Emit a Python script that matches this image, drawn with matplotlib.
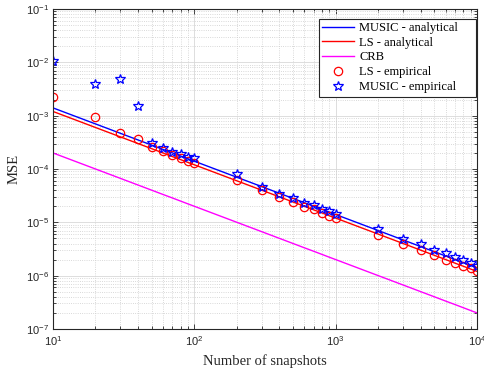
import numpy as np
import matplotlib
matplotlib.use("Agg")
import matplotlib.pyplot as plt
from matplotlib.patches import Rectangle
from matplotlib.ticker import NullFormatter

# snapshots
N = [10, 20, 30, 40, 50, 60, 70, 80, 90, 100,
     200, 300, 400, 500, 600, 700, 800, 900, 1000,
     2000, 3000, 4000, 5000, 6000, 7000, 8000, 9000, 10000]

# analytical curves
music_an = [1.4e-3, 7.0e-4, 4.67e-4, 3.5e-4, 2.8e-4, 2.33e-4, 2.0e-4, 1.75e-4, 1.56e-4, 1.4e-4,
            7.0e-5, 4.67e-5, 3.5e-5, 2.8e-5, 2.33e-5, 2.0e-5, 1.75e-5, 1.56e-5, 1.4e-5,
            7.0e-6, 4.67e-6, 3.5e-6, 2.8e-6, 2.33e-6, 2.0e-6, 1.75e-6, 1.56e-6, 1.4e-6]
ls_an = [1.2e-3, 6.0e-4, 4.0e-4, 3.0e-4, 2.4e-4, 2.0e-4, 1.71e-4, 1.5e-4, 1.33e-4, 1.2e-4,
         6.0e-5, 4.0e-5, 3.0e-5, 2.4e-5, 2.0e-5, 1.71e-5, 1.5e-5, 1.33e-5, 1.2e-5,
         6.0e-6, 4.0e-6, 3.0e-6, 2.4e-6, 2.0e-6, 1.71e-6, 1.5e-6, 1.33e-6, 1.2e-6]
crb = [2.0e-4, 1.0e-4, 6.67e-5, 5.0e-5, 4.0e-5, 3.33e-5, 2.86e-5, 2.5e-5, 2.22e-5, 2.0e-5,
       1.0e-5, 6.67e-6, 5.0e-6, 4.0e-6, 3.33e-6, 2.86e-6, 2.5e-6, 2.22e-6, 2.0e-6,
       1.0e-6, 6.67e-7, 5.0e-7, 4.0e-7, 3.33e-7, 2.86e-7, 2.5e-7, 2.22e-7, 2.0e-7]

# empirical points
ls_emp = [2.25e-3, 9.3e-4, 4.8e-4, 3.7e-4, 2.6e-4, 2.2e-4, 1.8e-4, 1.58e-4, 1.4e-4, 1.28e-4,
          6.2e-5, 4.0e-5, 3.0e-5, 2.35e-5, 1.95e-5, 1.75e-5, 1.52e-5, 1.33e-5, 1.22e-5,
          5.9e-6, 4.0e-6, 3.0e-6, 2.45e-6, 2.0e-6, 1.72e-6, 1.52e-6, 1.37e-6, 1.23e-6]
music_emp = [1.07e-2, 3.9e-3, 4.9e-3, 1.5e-3, 3.1e-4, 2.5e-4, 2.05e-4, 1.9e-4, 1.7e-4, 1.6e-4,
             8.0e-5, 4.6e-5, 3.4e-5, 2.9e-5, 2.3e-5, 2.1e-5, 1.75e-5, 1.6e-5, 1.45e-5,
             7.4e-6, 4.8e-6, 3.9e-6, 3.0e-6, 2.6e-6, 2.25e-6, 1.95e-6, 1.75e-6, 1.5e-6]

plt.rcParams["mathtext.fontset"] = "custom"
plt.rcParams["mathtext.rm"] = "Liberation Sans"
plt.rcParams["mathtext.it"] = "Liberation Sans:italic"
plt.rcParams["font.family"] = "Liberation Sans"

W, H = 485, 370
fig = plt.figure(figsize=(W / 100, H / 100), dpi=100)
ax = fig.add_axes([0.109, 0.111, 0.8745, 0.8647])

ax.loglog(N, music_an, color="blue", lw=1.0, label="MUSIC - analytical")
ax.loglog(N, ls_an, color="red", lw=1.0, label="LS - analytical")
ax.loglog(N, crb, color="magenta", lw=1.0, label="CRB")
ax.loglog(N, ls_emp, ls="none", marker="o", ms=6, mfc="none", mec="red", mew=0.9,
          label="LS - empirical")
ax.loglog(N, music_emp, ls="none", marker="*", ms=7, mfc="none", mec="blue", mew=0.9,
          label="MUSIC - empirical")

ax.set_xlim(10, 1e4)
ax.set_ylim(1e-7, 1e-1)
ax.xaxis.set_minor_formatter(NullFormatter())
ax.yaxis.set_minor_formatter(NullFormatter())

ax.grid(True, which="major", color="#d8d8d8", lw=0.6, ls="-")
ax.grid(True, which="minor", color="#cccccc", lw=0.6, ls=":")
ax.set_axisbelow(True)
ax.tick_params(which="both", direction="in", top=True, right=True, labelsize=8,
               width=0.6, labelcolor="#262626", color="#262626")
ax.tick_params(axis="x", pad=4)
ax.tick_params(axis="y", pad=2.5)
ax.tick_params(which="major", length=3.5)
ax.tick_params(which="minor", length=2)
for s in ax.spines.values():
    s.set_linewidth(0.8)
    s.set_color("#262626")

ax.set_xlabel("Number of snapshots", family="Liberation Serif", fontsize=10.5,
              color="#262626", labelpad=4)
ax.set_ylabel("MSE", family="Liberation Serif", fontsize=10.5, color="#262626",
              labelpad=4)

# legend box (matlab style: wide right margin)
box = Rectangle((319 / W, 1 - 97 / H), 157 / W, 78 / H, transform=fig.transFigure,
                facecolor="white", edgecolor="#262626", lw=0.8, zorder=4, clip_on=False)
ax.add_patch(box)
leg = ax.legend(loc="upper left", bbox_to_anchor=(322 / W, 1 - 22 / H),
                bbox_transform=fig.transFigure, borderaxespad=0, borderpad=0,
                prop={"family": "Liberation Serif", "size": 9}, frameon=False,
                labelspacing=0.22, handlelength=2.6, handletextpad=0.4)
leg.set_zorder(5)

fig.savefig("out.png", dpi=100)
